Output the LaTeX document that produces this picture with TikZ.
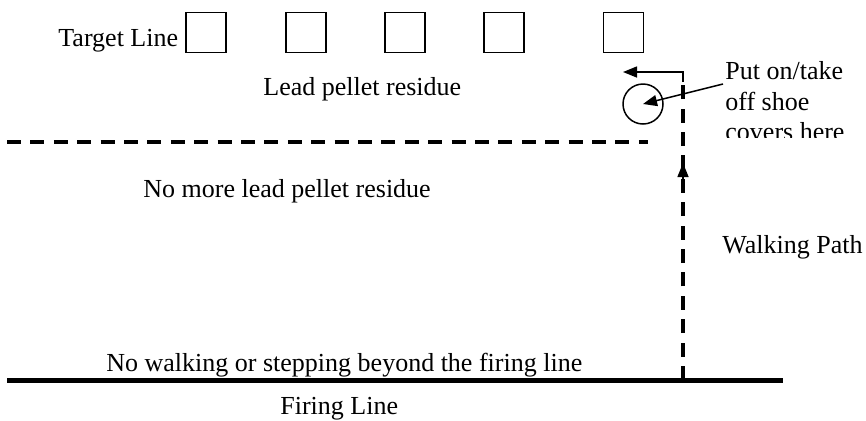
\documentclass[tikz,border=0pt]{standalone}
\usepackage{fontspec}
\setmainfont{Liberation Serif}
\usepackage{tikz}
\usetikzlibrary{arrows.meta}

\tikzset{
  lbl/.style={font=\fontsize{13pt}{16.5pt}\selectfont, inner sep=0pt, anchor=base west},
  target/.style={draw, line width=0.75pt, minimum size=20pt, inner sep=0pt},
  tip/.style={-{Triangle[length=7pt,width=5.5pt]}, line width=0.75pt},
  walkdash/.style={line width=2pt, dash pattern=on 7pt off 4.7pt},
}

\begin{document}
\begin{tikzpicture}[x=0.5pt, y=-0.5pt]
\useasboundingbox (0,0) rectangle (866,420);

% target line
\node (tl) at (58,46) [lbl] {Target Line};
\node (t1) at (206,32.5) [target] {};
\node (t2) at (306,32.5) [target] {};
\node (t3) at (405,32.5) [target] {};
\node (t4) at (504,32.5) [target] {};
\node (t5) at (623.5,32.5) [target] {};

\node (lead) at (263,95) [lbl] {Lead pellet residue};
\node (nolead) at (143,197) [lbl] {No more lead pellet residue};
\node (nowalk) at (106,371) [lbl] {No walking or stepping beyond the firing line};
\node (fire) at (280,414) [lbl] {Firing Line};
\node (walk) at (722,253) [lbl] {Walking Path};

% shoe cover spot
\node (spot) at (643,104) [draw, circle, line width=0.75pt, minimum size=20pt, inner sep=0pt] {};
\begin{scope}
\clip (700,0) rectangle (866,137);
\node (note1) at (725,79) [lbl] {Put on/take};
\node (note2) at (725,110) [lbl] {off shoe};
\node (note3) at (725,140) [lbl] {covers here};
\end{scope}
\coordinate (noteend) at (723,84);
\draw [tip] (noteend) -- (spot.center);

% residue border and firing line
\coordinate (b1) at (7,142);
\coordinate (b2) at (648,142);
\draw [walkdash] (b1) -- (b2);
\coordinate (f1) at (7,380);
\coordinate (f2) at (783,380);
\draw [line width=2.5pt] (f1) -- (f2);

% walking path
\coordinate (p0) at (683,380);
\coordinate (p1) at (683,82);
\coordinate (p2) at (683,72);
\coordinate (p3) at (623,72);
\coordinate (m0) at (683,192);
\coordinate (m1) at (683,163);
\draw [walkdash] (p0) -- (p1);
\draw [tip] (p1) -- (p2) -- (p3);
\draw [tip] (m0) -- (m1);
\end{tikzpicture}
\end{document}
